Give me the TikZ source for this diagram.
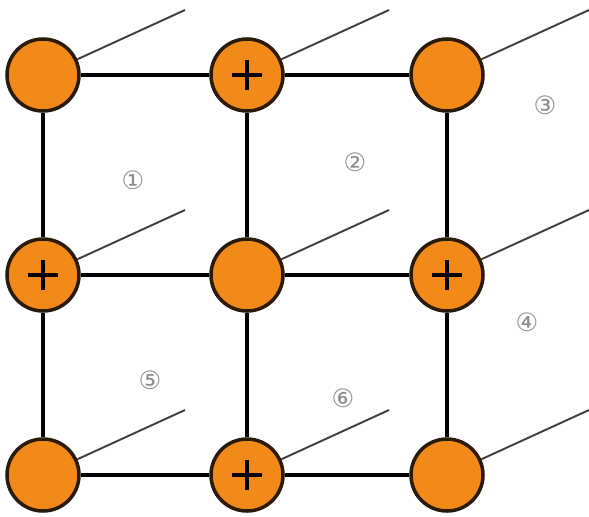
\documentclass[tikz,border=0pt]{standalone}
\usepackage{fontspec}
\newfontfamily\symfont{DejaVu Sans}
\usepackage{tikz}
\usetikzlibrary{positioning,calc}
\definecolor{siteorange}{HTML}{F28A1A}
\definecolor{siteedge}{HTML}{2A1A08}

\begin{document}
\begin{tikzpicture}[
        site/.style={circle,draw=siteedge,line width=2pt,fill=siteorange,minimum size=1.44cm,inner sep=0pt},
        plussite/.style={site,path picture={
            \draw[line width=2.3pt,black] ([xshift=-0.3cm]path picture bounding box.center) -- ([xshift=0.3cm]path picture bounding box.center);
            \draw[line width=2.3pt,black] ([yshift=-0.3cm]path picture bounding box.center) -- ([yshift=0.3cm]path picture bounding box.center);}},
        bond/.style={line width=2.3pt,black},
        axis/.style={line width=1.1pt,black!75},
        tag/.style={text=black!45,font=\symfont\Large}
    ]
        \useasboundingbox (0,0) rectangle (11.78,10.32);
        % lattice sites
        \node[site]     (a1) at (0.86,8.82) {};
        \node[plussite] (a2) at (4.94,8.82) {};
        \node[site]     (a3) at (8.94,8.82) {};
        \node[plussite] (b1) at (0.86,4.82) {};
        \node[site]     (b2) at (4.94,4.82) {};
        \node[plussite] (b3) at (8.94,4.82) {};
        \node[site]     (c1) at (0.86,0.82) {};
        \node[plussite] (c2) at (4.94,0.82) {};
        \node[site]     (c3) at (8.94,0.82) {};
        % lines going back
        \foreach \n in {a1,a2,a3,b1,b2,b3,c1,c2,c3}{
            \coordinate (\n e) at ($(\n)+(2.84,1.3)$);
            \draw[axis] (\n) -- (\n e);
        }
        % bonds
        \foreach \p/\q in {a1/a2,a2/a3,b1/b2,b2/b3,c1/c2,c2/c3,a1/b1,b1/c1,a2/b2,b2/c2,a3/b3,b3/c3}
            \draw[bond] (\p) -- (\q);
        % face labels
        \node[tag] (t1) at (2.66,6.72) {①};
        \node[tag] (t2) at (7.10,7.08) {②};
        \node[tag] (t3) at (10.90,8.22) {③};
        \node[tag] (t4) at (10.54,3.88) {④};
        \node[tag] (t5) at (3.00,2.72) {⑤};
        \node[tag] (t6) at (6.86,2.36) {⑥};
    \end{tikzpicture}
\end{document}
